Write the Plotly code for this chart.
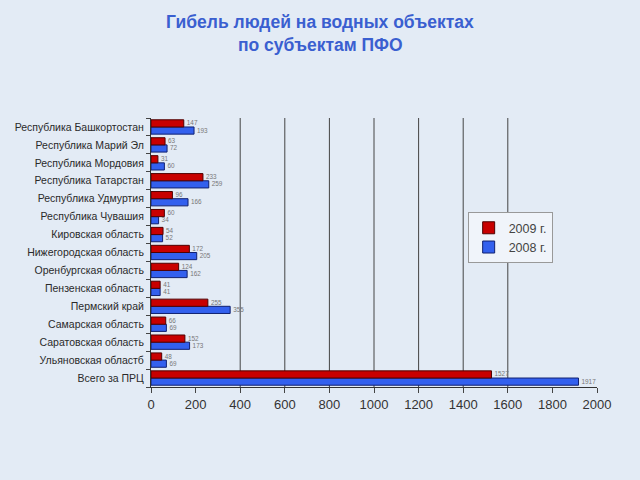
import plotly.graph_objects as go

categories = ["Республика Башкортостан", "Республика Марий Эл", "Республика Мордовия",
              "Республика Татарстан", "Республика Удмуртия", "Республика Чувашия",
              "Кировская область", "Нижегородская область", "Оренбургская область",
              "Пензенская область", "Пермский край", "Самарская область",
              "Саратовская область", "Ульяновская областб", "Всего за ПРЦ"]
v2009 = [147, 63, 31, 233, 96, 60, 54, 172, 124, 41, 255, 66, 152, 48, 1527]
v2008 = [193, 72, 60, 259, 166, 34, 52, 205, 162, 41, 355, 69, 173, 69, 1917]
xticks = [0, 200, 400, 600, 800, 1000, 1200, 1400, 1600, 1800, 2000]
gridlines = [400, 600, 800, 1000, 1200, 1400, 1600]
title_lines = ["Гибель людей на водных объектах", "по субъектам ПФО"]

fig = go.Figure()
fig.add_trace(go.Bar(y=categories, x=v2008, orientation="h", name="2008 г.",
                     marker=dict(color="#3360EE", line=dict(color="#102070", width=1)),
                     text=v2008, textposition="outside",
                     textfont=dict(size=8, color="#777777"), cliponaxis=False))
fig.add_trace(go.Bar(y=categories, x=v2009, orientation="h", name="2009 г.",
                     marker=dict(color="#C80000", line=dict(color="#500000", width=1)),
                     text=v2009, textposition="outside",
                     textfont=dict(size=8, color="#777777"), cliponaxis=False))

for g in gridlines:
    fig.add_shape(type="line", xref="x", yref="paper", x0=g, x1=g, y0=0, y1=1,
                  line=dict(color="#444444", width=1), layer="below")

for txt, yp in zip(title_lines, [1.357, 1.271]):
    fig.add_annotation(text="<b>" + txt + "</b>", xref="paper", yref="paper",
                       x=(320 - 151) / 446, y=yp, xanchor="center", yanchor="middle",
                       showarrow=False, font=dict(size=17.5, color="#3A5FD0"))

fig.update_layout(
    width=640, height=480,
    margin=dict(l=151, r=43, t=118, b=93),
    paper_bgcolor="#E3EBF5", plot_bgcolor="rgba(0,0,0,0)",
    barmode="group", bargap=0.2, bargroupgap=0,
    font=dict(family="Arial, Liberation Sans", color="#222222"),
    legend=dict(x=0.71, y=0.65, xanchor="left", yanchor="top",
                bgcolor="rgba(240,244,250,1)", bordercolor="#999999", borderwidth=1,
                font=dict(size=12.5, color="#444444"), traceorder="reversed",
                itemwidth=30, tracegroupgap=2),
    xaxis=dict(range=[0, 2000], tickvals=xticks, ticktext=[str(t) for t in xticks],
               showgrid=False,
               showline=True, linecolor="#333333", ticks="outside", ticklen=5,
               tickfont=dict(size=13, color="#333333"), zeroline=False),
    yaxis=dict(categoryorder="array", categoryarray=categories[::-1],
               showline=True, linecolor="#333333", ticks="outside", ticklen=4,
               tickson="boundaries", ticklabelstandoff=4,
               tickfont=dict(size=10.5, color="#2a2a2a")),
)

fig.write_html("out.html")
